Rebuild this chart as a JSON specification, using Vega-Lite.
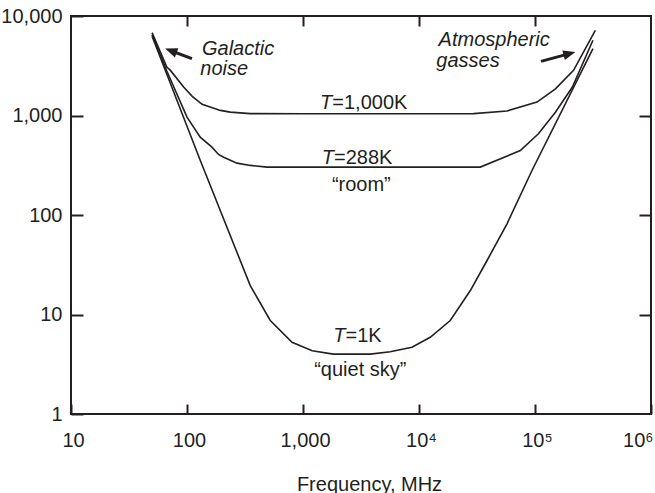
{
  "$schema": "https://vega.github.io/schema/vega-lite/v6.json",
  "width": 580,
  "height": 398,
  "autosize": "none",
  "padding": {"left": 71, "top": 16, "right": 4, "bottom": 79},
  "background": "white",
  "config": {
    "view": {"stroke": "#231f20", "strokeWidth": 2},
    "font": "Liberation Sans",
    "text": {"font": "Liberation Sans", "fontSize": 20, "color": "#231f20"}
  },
  "datasets": {
    "curves": [
      {"series": "1000K", "f": 50, "t": 6800},
      {"series": "1000K", "f": 67, "t": 3070},
      {"series": "1000K", "f": 72, "t": 2840},
      {"series": "1000K", "f": 93.5, "t": 1930},
      {"series": "1000K", "f": 111, "t": 1556},
      {"series": "1000K", "f": 135, "t": 1294},
      {"series": "1000K", "f": 194, "t": 1125},
      {"series": "1000K", "f": 236, "t": 1082},
      {"series": "1000K", "f": 351, "t": 1045},
      {"series": "1000K", "f": 1000, "t": 1040},
      {"series": "1000K", "f": 10000, "t": 1040},
      {"series": "1000K", "f": 29560, "t": 1045},
      {"series": "1000K", "f": 57400, "t": 1110},
      {"series": "1000K", "f": 104000, "t": 1364},
      {"series": "1000K", "f": 150000, "t": 1850},
      {"series": "1000K", "f": 215000, "t": 2840},
      {"series": "1000K", "f": 331000, "t": 7180},
      {"series": "288K", "f": 50, "t": 6500},
      {"series": "288K", "f": 67, "t": 2800},
      {"series": "288K", "f": 100, "t": 964},
      {"series": "288K", "f": 130, "t": 606},
      {"series": "288K", "f": 164, "t": 481},
      {"series": "288K", "f": 187, "t": 406},
      {"series": "288K", "f": 207, "t": 381},
      {"series": "288K", "f": 270, "t": 332},
      {"series": "288K", "f": 351, "t": 315},
      {"series": "288K", "f": 489, "t": 303},
      {"series": "288K", "f": 33760, "t": 303},
      {"series": "288K", "f": 74700, "t": 445},
      {"series": "288K", "f": 107000, "t": 656},
      {"series": "288K", "f": 150000, "t": 1080},
      {"series": "288K", "f": 210000, "t": 1931},
      {"series": "288K", "f": 316000, "t": 5700},
      {"series": "1K", "f": 50, "t": 6250},
      {"series": "1K", "f": 130, "t": 355},
      {"series": "1K", "f": 351, "t": 19.5},
      {"series": "1K", "f": 522, "t": 8.7},
      {"series": "1K", "f": 804, "t": 5.25},
      {"series": "1K", "f": 1200, "t": 4.33},
      {"series": "1K", "f": 1825, "t": 4.0},
      {"series": "1K", "f": 3800, "t": 4.0},
      {"series": "1K", "f": 5650, "t": 4.23},
      {"series": "1K", "f": 8700, "t": 4.68},
      {"series": "1K", "f": 12500, "t": 5.9},
      {"series": "1K", "f": 18600, "t": 8.7},
      {"series": "1K", "f": 27700, "t": 17.4},
      {"series": "1K", "f": 38600, "t": 34.9},
      {"series": "1K", "f": 57400, "t": 81.6},
      {"series": "1K", "f": 94200, "t": 280},
      {"series": "1K", "f": 316000, "t": 4700}
    ],
    "arrows": [
      {"name": "galactic", "x": 110.4, "y": 3727, "x2": 72.6, "y2": 4476},
      {"name": "atmos", "x": 112640, "y": 3502, "x2": 198400, "y2": 4185}
    ],
    "labels": [
      {"kind": "T", "x": 1789, "y": 1165, "label": "T"},
      {"kind": "T", "x": 1849, "y": 327, "label": "T"},
      {"kind": "T", "x": 2328, "y": 5.25, "label": "T"},
      {"kind": "eq", "x": 1789, "y": 1165, "label": "=1,000K"},
      {"kind": "eq", "x": 1849, "y": 327, "label": "=288K"},
      {"kind": "eq", "x": 2328, "y": 5.25, "label": "=1K"},
      {"kind": "center", "x": 3182, "y": 172.3, "label": "“room”"},
      {"kind": "center", "x": 3119, "y": 2.43, "label": "“quiet sky”"},
      {"kind": "note", "x": 134.6, "y": 4090, "label": "Galactic"},
      {"kind": "note", "x": 130.2, "y": 2532, "label": "noise"},
      {"kind": "note", "x": 14760, "y": 4958, "label": "Atmospheric"},
      {"kind": "note", "x": 14100, "y": 3069, "label": "gasses"}
    ]
  },
  "layer": [
    {
      "data": {"name": "curves"},
      "mark": {"type": "line", "color": "#231f20", "strokeWidth": 1.6},
      "encoding": {
        "x": {
          "field": "f", "type": "quantitative",
          "scale": {"type": "log", "domain": [10, 1000000]},
          "axis": {
            "orient": "bottom",
            "offset": -10,
            "values": [10, 100, 1000, 10000, 100000, 1000000],
            "labelExpr": "datum.value == 10000 ? '10⁴' : datum.value == 100000 ? '10⁵' : datum.value == 1000000 ? '10⁶' : format(datum.value, ',')",
            "domain": false, "grid": false,
            "tickSize": 10, "tickWidth": 2, "tickColor": "#231f20",
            "labelFontSize": 20, "labelColor": "#231f20", "labelPadding": 16,
            "labelAlign": {"condition": {"test": "datum.value == 1000000", "value": "right"}, "value": "center"},
            "labelOffset": {"condition": {"test": "datum.value == 1000000", "value": 2}, "value": 2},
            "labelFlush": false, "labelOverlap": false, "labelBound": false,
            "title": "Frequency, MHz", "titleFontSize": 20, "titleFontWeight": "normal",
            "titleColor": "#231f20", "titleX": 298, "titleY": 86, "titleBaseline": "alphabetic",
            "titleAnchor": "middle", "titleAlign": "center"
          }
        },
        "y": {
          "field": "t", "type": "quantitative",
          "scale": {"type": "log", "domain": [1, 10000]},
          "axis": {
            "orient": "left",
            "offset": -12,
            "values": [1, 10, 100, 1000, 10000],
            "labelExpr": "format(datum.value, ',')",
            "domain": false, "grid": false,
            "tickSize": 12, "tickWidth": 2, "tickColor": "#231f20",
            "labelFontSize": 20, "labelColor": "#231f20", "labelPadding": 9,
            "labelFlush": false, "labelOverlap": false, "labelBound": false,
            "title": null
          }
        },
        "detail": {"field": "series"}
      }
    },
    {
      "data": {"name": "arrows"},
      "mark": {"type": "rule", "color": "#231f20", "strokeWidth": 3},
      "encoding": {
        "x": {
          "field": "x", "type": "quantitative",
          "scale": {"type": "log", "domain": [10, 1000000]},
          "axis": {
            "orient": "top",
            "offset": -10,
            "values": [100, 1000, 10000, 100000],
            "labels": false, "domain": false, "grid": false,
            "tickSize": 10, "tickWidth": 2, "tickColor": "#231f20", "title": null
          }
        },
        "y": {
          "field": "y", "type": "quantitative",
          "scale": {"type": "log", "domain": [1, 10000]},
          "axis": {
            "orient": "right",
            "offset": -12,
            "values": [10, 100, 1000],
            "labels": false, "domain": false, "grid": false,
            "tickSize": 12, "tickWidth": 2, "tickColor": "#231f20", "title": null
          }
        },
        "x2": {"field": "x2"},
        "y2": {"field": "y2"}
      }
    },
    {
      "data": {"name": "arrows"},
      "transform": [{"filter": "datum.name == 'galactic'"}],
      "mark": {"type": "point", "shape": "M0,-1L0.8,1L-0.8,1Z", "filled": true, "color": "#231f20", "opacity": 1, "size": 150, "angle": 290.5},
      "encoding": {
        "x": {"field": "x2", "type": "quantitative", "scale": {"type": "log", "domain": [10, 1000000]}, "axis": null},
        "y": {"field": "y2", "type": "quantitative", "scale": {"type": "log", "domain": [1, 10000]}, "axis": null}
      }
    },
    {
      "data": {"name": "arrows"},
      "transform": [{"filter": "datum.name == 'atmos'"}],
      "mark": {"type": "point", "shape": "M0,-1L0.8,1L-0.8,1Z", "filled": true, "color": "#231f20", "opacity": 1, "size": 150, "angle": 74.8},
      "encoding": {
        "x": {"field": "x2", "type": "quantitative", "scale": {"type": "log", "domain": [10, 1000000]}, "axis": null},
        "y": {"field": "y2", "type": "quantitative", "scale": {"type": "log", "domain": [1, 10000]}, "axis": null}
      }
    },
    {
      "data": {"name": "labels"},
      "transform": [{"filter": "datum.kind == 'T'"}],
      "mark": {"type": "text", "align": "right", "baseline": "alphabetic", "fontStyle": "italic"},
      "encoding": {
        "x": {"field": "x", "type": "quantitative", "scale": {"type": "log", "domain": [10, 1000000]}, "axis": null},
        "y": {"field": "y", "type": "quantitative", "scale": {"type": "log", "domain": [1, 10000]}, "axis": null},
        "text": {"field": "label"}
      }
    },
    {
      "data": {"name": "labels"},
      "transform": [{"filter": "datum.kind == 'eq'"}],
      "mark": {"type": "text", "align": "left", "baseline": "alphabetic"},
      "encoding": {
        "x": {"field": "x", "type": "quantitative", "scale": {"type": "log", "domain": [10, 1000000]}, "axis": null},
        "y": {"field": "y", "type": "quantitative", "scale": {"type": "log", "domain": [1, 10000]}, "axis": null},
        "text": {"field": "label"}
      }
    },
    {
      "data": {"name": "labels"},
      "transform": [{"filter": "datum.kind == 'center'"}],
      "mark": {"type": "text", "align": "center", "baseline": "alphabetic"},
      "encoding": {
        "x": {"field": "x", "type": "quantitative", "scale": {"type": "log", "domain": [10, 1000000]}, "axis": null},
        "y": {"field": "y", "type": "quantitative", "scale": {"type": "log", "domain": [1, 10000]}, "axis": null},
        "text": {"field": "label"}
      }
    },
    {
      "data": {"name": "labels"},
      "transform": [{"filter": "datum.kind == 'note'"}],
      "mark": {"type": "text", "align": "left", "baseline": "alphabetic", "fontStyle": "italic"},
      "encoding": {
        "x": {"field": "x", "type": "quantitative", "scale": {"type": "log", "domain": [10, 1000000]}, "axis": null},
        "y": {"field": "y", "type": "quantitative", "scale": {"type": "log", "domain": [1, 10000]}, "axis": null},
        "text": {"field": "label"}
      }
    }
  ],
  "resolve": {"axis": {"x": "independent", "y": "independent"}}
}
